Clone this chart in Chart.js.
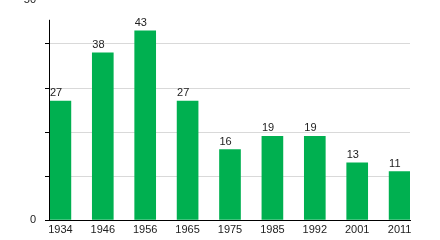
<!DOCTYPE html>
<html>
<head>
<meta charset="utf-8">
<script src="https://cdn.jsdelivr.net/npm/chart.js@4/dist/chart.umd.min.js"></script>
<style>
  html, body { margin: 0; padding: 0; background: #fff; }
  #wrap { width: 440px; height: 240px; }
</style>
</head>
<body>
<div id="wrap"><canvas id="chart"></canvas></div>
<script>
// values
const years = ['1934', '1946', '1956', '1965', '1975', '1985', '1992', '2001', '2011'];
const counts = [27, 38, 43, 27, 16, 19, 19, 13, 11];
const yTicks = [0, 10, 20, 30, 40, 50];
const yLabels = [0, 50];

const green = '#00b050';
const font = { family: '"Liberation Sans", Arial, sans-serif', size: 11 };

// bar values written just above each bar, starting at its left edge
const valueLabels = {
  id: 'valueLabels',
  afterDatasetsDraw(chart) {
    const ctx = chart.ctx;
    const meta = chart.getDatasetMeta(0);
    ctx.save();
    ctx.font = '11px "Liberation Sans", Arial, sans-serif';
    ctx.fillStyle = '#222';
    ctx.textAlign = 'left';
    ctx.textBaseline = 'alphabetic';
    meta.data.forEach((bar, i) => {
      ctx.fillText(String(counts[i]), bar.x - bar.width / 2, bar.y - 5);
    });
    ctx.restore();
  }
};

// y axis line stops a bit short of the top of the scale
const yAxisLine = {
  id: 'yAxisLine',
  afterDraw(chart) {
    const y = chart.scales.y;
    const ctx = chart.ctx;
    ctx.save();
    ctx.strokeStyle = '#000';
    ctx.lineWidth = 1;
    ctx.beginPath();
    ctx.moveTo(Math.round(y.right) - 0.5, y.getPixelForValue(45.5));
    ctx.lineTo(Math.round(y.right) - 0.5, y.getPixelForValue(0) + 0.5);
    ctx.stroke();
    ctx.restore();
  }
};

const barPoints = years.map((_, i) => ({ x: i, y: counts[i] }));

new Chart(document.getElementById('chart'), {
  type: 'bar',
  data: {
    datasets: [{
      data: barPoints,
      backgroundColor: green,
      borderWidth: 0,
      barThickness: 21
    }]
  },
  options: {
    responsive: true,
    maintainAspectRatio: false,
    animation: false,
    layout: { padding: { left: 0, right: 30, top: 0, bottom: 0 } },
    plugins: { legend: { display: false }, tooltip: { enabled: false } },
    scales: {
      x: {
        type: 'linear',
        offset: false,
        min: -0.245,
        max: years.length - 1 + 0.245,
        afterBuildTicks: axis => { axis.ticks = years.map((_, i) => ({ value: i })); },
        afterFit: axis => {
          axis.height = 20;
          axis.paddingLeft = 0;
          axis.paddingRight = 0;
        },
        grid: { display: false },
        border: { display: true, color: '#000', width: 1 },
        ticks: {
          font: font,
          color: '#222',
          padding: -5,
          maxRotation: 0,
          autoSkip: false,
          callback: v => years[v]
        }
      },
      y: {
        min: 0,
        max: 50,
        afterBuildTicks: axis => { axis.ticks = yTicks.map(v => ({ value: v })); },
        afterFit: axis => {
          axis.width = 50;
          axis.paddingTop = 0;
          axis.paddingBottom = 0;
        },
        border: { display: false },
        grid: {
          color: c => (c.tick && (c.tick.value === 0 || c.tick.value === 50)) ? 'rgba(0,0,0,0)' : '#d9d9d9',
          tickColor: c => (c.tick && c.tick.value === 50) ? 'rgba(0,0,0,0)' : '#000',
          tickLength: 5,
          lineWidth: 1
        },
        ticks: {
          font: font,
          color: '#222',
          padding: 9,
          callback: v => yLabels.includes(v) ? String(v) : ''
        }
      }
    }
  },
  plugins: [valueLabels, yAxisLine]
});
</script>
</body>
</html>
